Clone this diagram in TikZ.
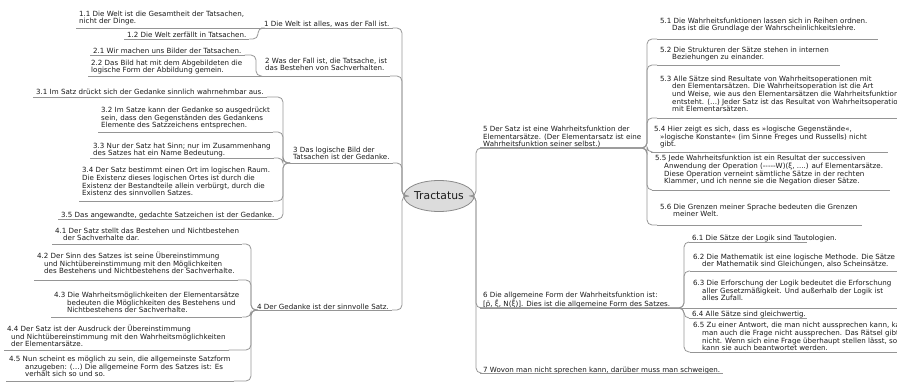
\documentclass[tikz,border=0pt]{standalone}
\usepackage{fontspec}
\setmainfont{DejaVu Sans}
\usetikzlibrary{shapes.geometric}
\definecolor{linegray}{HTML}{959595}
\definecolor{txtgray}{HTML}{1A1A1A}
\definecolor{ellfill}{HTML}{DCDCDC}
\definecolor{ellline}{HTML}{8A8A8A}
\newcommand\hy{-\kern0pt}
\begin{document}
\begin{tikzpicture}[x=1pt,y=-1pt,
  txt/.style={font=\fontsize{7.1}{7.7}\selectfont, text=txtgray, align=left,
    inner xsep=3pt, inner ysep=#1, text depth=0.8pt, anchor=south west},
  txt/.default=0pt,
  conn/.style={draw=linegray, line width=0.8pt, rounded corners=5pt},
  uline/.style={draw=linegray, line width=0.8pt},
  root/.style={ellipse, draw=ellline, fill=ellfill, line width=0.8pt,
    minimum width=64pt, minimum height=31pt, inner sep=0pt,
    font=\fontsize{10.8}{12}\selectfont, text=txtgray}
]
\useasboundingbox (0,0) rectangle (897,387);
\clip (0,0) rectangle (897,387);

% root
\node[root] (T) at (439,196) {Tractatus};
\coordinate (bL) at (402,196);
\coordinate (bR) at (476,196);

% ---------- left side ----------
\node[txt] (t1) at (261,28) {1 Die Welt ist alles, was der Fall ist.};
\node[txt=3pt] (c11) at (76,28) {1.1 Die Welt ist die Gesamtheit der Tatsachen,\\nicht der Dinge.};
\node[txt] (c12) at (124,39) {1.2 Die Welt zerfällt in Tatsachen.};

\node[txt=4pt] (t2) at (262,76) {2 Was der Fall ist, die Tatsache, ist\\das Bestehen von Sachverhalten.};
\node[txt] (c21) at (90,55) {2.1 Wir machen uns Bilder der Tatsachen.};
\node[txt=2pt] (c22) at (88,76) {2.2 Das Bild hat mit dem Abgebildeten die\\logische Form der Abbildung gemein.};

\node[txt=2pt] (t3) at (290,163) {3 Das logische Bild der\\Tatsachen ist der Gedanke.};
\node[txt=1pt] (c31) at (33,97) {3.1 Im Satz drückt sich der Gedanke sinnlich wahrnehmbar aus.};
\node[txt=3pt] (c32) at (98,132) {3.2 Im Satze kann der Gedanke so ausgedrückt\\sein, dass den Gegenständen des Gedankens\\Elemente des Satzzeichens entsprechen.};
\node[txt=1pt] (c33) at (90,158) {3.3 Nur der Satz hat Sinn; nur im Zusammenhang\\des Satzes hat ein Name Bedeutung.};
\node[txt=4pt] (c34) at (79,201) {3.4 Der Satz bestimmt einen Ort im logischen Raum.\\Die Existenz dieses logischen Ortes ist durch die\\Existenz der Bestandteile allein verbürgt, durch die\\Existenz des sinnvollen Satzes.};
\node[txt] (c35) at (58,219) {3.5 Das angewandte, gedachte Satzeichen ist der Gedanke.};

\node[txt] (t4) at (254,310) {4 Der Gedanke ist der sinnvolle Satz.};
\node[txt=2pt] (c41) at (52,244) {4.1 Der Satz stellt das Bestehen und Nichtbestehen\\\hspace*{8pt}der Sachverhalte dar.};
\node[txt=5pt] (c42) at (34,280) {4.2 Der Sinn des Satzes ist seine Übereinstimmung\\\hspace*{7pt}und Nichtübereinstimmung mit den Möglichkeiten\\\hspace*{7pt}des Bestehens und Nichtbestehens der Sachverhalte.};
\node[txt=3pt] (c43) at (51,317) {4.3 Die Wahrheitsmöglichkeiten der Elementarsätze\\\hspace*{13pt}bedeuten die Möglichkeiten des Bestehens und\\\hspace*{13pt}Nichtbestehens der Sachverhalte.};
\node[txt=2pt] (c44) at (4,350) {4.4 Der Satz ist der Ausdruck der Übereinstimmung\\\hspace*{4pt}und Nichtübereinstimmung mit den Wahrheitsmöglichkeiten\\\hspace*{4pt}der Elementarsätze.};
\node[txt=3pt] (c45) at (6,381) {4.5 Nun scheint es möglich zu sein, die allgemeinste Satzform\\\hspace*{16pt}anzugeben: (…) Die allgemeine Form des Satzes ist: Es\\\hspace*{16pt}verhält sich so und so.};

% ---------- right side ----------
\node[txt] (t5) at (480,148) {5 Der Satz ist eine Wahrheitsfunktion der\\Elementarsätze. (Der Elementarsatz ist eine\\Wahrheitsfunktion seiner selbst.)};
\node[txt=7pt] (c51) at (657,39) {5.1 Die Wahrheitsfunktionen lassen sich in Reihen ordnen.\\\hspace*{12pt}Das ist die Grundlage der Wahrscheinlichkeitslehre.};
\node[txt=4pt] (c52) at (657,65) {5.2 Die Strukturen der Sätze stehen in internen\\\hspace*{12pt}Beziehungen zu einander.};
\node[txt=5pt] (c53) at (657,118) {5.3 Alle Sätze sind Resultate von Wahrheitsoperationen mit\\\hspace*{12pt}den Elementarsätzen. Die Wahrheitsoperation ist die Art\\\hspace*{12pt}und Weise, wie aus den Elementarsätzen die Wahrheitsfunktion\\\hspace*{12pt}entsteht. (…) Jeder Satz ist das Resultat von Wahrheitsoperationen\\\hspace*{12pt}mit Elementarsätzen.};
\node[txt=4pt] (c54) at (651,152) {5.4 Hier zeigt es sich, dass es »logische Gegenstände«,\\\hspace*{6pt}»logische Konstante« (im Sinne Freges und Russells) nicht\\\hspace*{6pt}gibt.};
\node[txt=5pt] (c55) at (652,190) {5.5 Jede Wahrheitsfunktion ist ein Resultat der successiven\\\hspace*{9pt}Anwendung der Operation (\hy\hy\hy\hy\hy W)(ξ, ....) auf Elementarsätze.\\\hspace*{9pt}Diese Operation verneint sämtliche Sätze in der rechten\\\hspace*{9pt}Klammer, und ich nenne sie die Negation dieser Sätze.};
\node[txt=7pt] (c56) at (657,225) {5.6 Die Grenzen meiner Sprache bedeuten die Grenzen\\\hspace*{13pt}meiner Welt.};

\node[txt] (t6) at (480,308) {6 Die allgemeine Form der Wahrheitsfunktion ist:\\{[}p̄, ξ̄, N(ξ̄)]. Dies ist die allgemeine Form des Satzes.};
\node[txt] (c61) at (689,242) {6.1 Die Sätze der Logik sind Tautologien.};
\node[txt=3pt] (c62) at (690,271) {6.2 Die Mathematik ist eine logische Methode. Die Sätze\\\hspace*{9pt}der Mathematik sind Gleichungen, also Scheinsätze.};
\node[txt=6pt] (c63) at (690,308) {6.3 Die Erforschung der Logik bedeutet die Erforschung\\\hspace*{9pt}aller Gesetzmäßigkeit. Und außerhalb der Logik ist\\\hspace*{9pt}alles Zufall.};
\node[txt] (c64) at (689,318) {6.4 Alle Sätze sind gleichwertig.};
\node[txt] (c65) at (690,352) {6.5 Zu einer Antwort, die man nicht aussprechen kann, kann\\\hspace*{9pt}man auch die Frage nicht aussprechen. Das Rätsel gibt es\\\hspace*{9pt}nicht. Wenn sich eine Frage überhaupt stellen lässt, so\\\hspace*{9pt}kann sie auch beantwortet werden.};

\node[txt] (t7) at (480,373) {7 Wovon man nicht sprechen kann, darüber muss man schweigen.};

% bracket points
\coordinate (b1) at (258,28);
\coordinate (b2) at (256,76);
\coordinate (b3) at (283,163);
\coordinate (b4) at (251,310);
\coordinate (b5) at (647,148);
\coordinate (b6) at (684,308);

% ---------- trunk connectors ----------
\foreach \t in {t1,t2,t3,t4}
  \draw[conn] (T.west) -- (bL) |- (\t.south east);
\foreach \t in {t5,t6,t7}
  \draw[conn] (T.east) -- (bR) |- (\t.south west);

% topic underlines
\foreach \t in {t1,t2,t3,t4,t7}
  \draw[uline] (\t.south west) -- (\t.south east);

% ---------- left children ----------
\draw[conn] (t1.south west) -- (c11.south east);
\draw[conn] (t1.south west) -- (b1) |- (c12.south east);
\draw[conn] (t2.south west) -- (b2) |- (c21.south east);
\draw[conn] (t2.south west) -- (c22.south east);
\foreach \c in {c31,c32,c33,c34,c35}
  \draw[conn] (t3.south west) -- (b3) |- (\c.south east);
\foreach \c in {c41,c42,c43,c44,c45}
  \draw[conn] (t4.south west) -- (b4) |- (\c.south east);
\foreach \c in {c11,c12,c21,c22,c31,c32,c33,c34,c35,c41,c42,c43,c44,c45}
  \draw[uline] (\c.south west) -- (\c.south east);

% ---------- right children ----------
\foreach \c in {c51,c52,c53,c54,c55,c56}
  \draw[conn] (t5.south west) -- (b5) |- (\c.south west);
\foreach \c in {c61,c62,c64,c65}
  \draw[conn] (t6.south west) -- (b6) |- (\c.south west);
\draw[conn] (t6.south west) -- (c63.south west);

\draw[uline] (c51.south west) -- ++(221,0);
\draw[uline] (c52.south west) -- ++(183,0);
\draw[uline] (c53.south west) -- ++(250,0);
\draw[uline] (c54.south west) -- ++(237,0);
\draw[uline] (c55.south west) -- ++(238,0);
\draw[uline] (c56.south west) -- ++(205,0);
\draw[uline] (c61.south west) -- ++(118,0);
\draw[uline] (c62.south west) -- ++(215,0);
\draw[uline] (c63.south west) -- ++(215,0);
\draw[uline] (c64.south west) -- ++(118,0);
\draw[uline] (c65.south west) -- ++(215,0);
\end{tikzpicture}
\end{document}
